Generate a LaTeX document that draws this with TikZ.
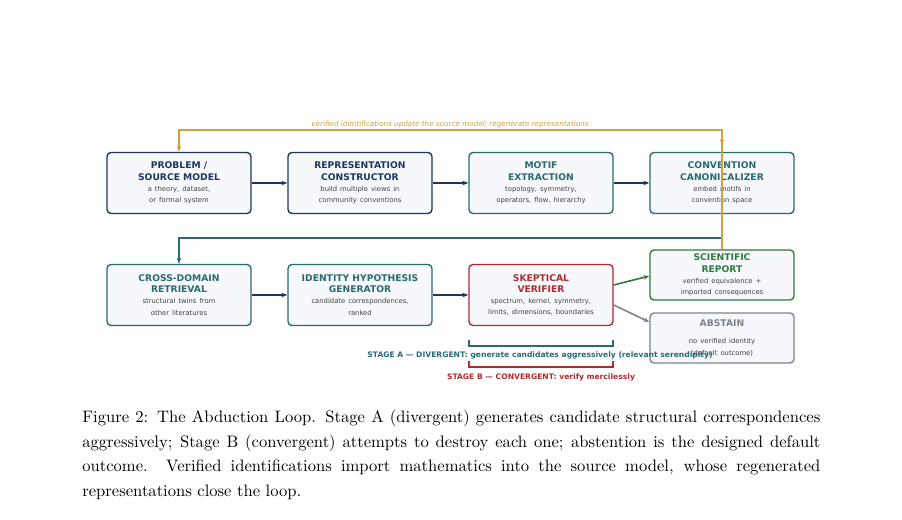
\documentclass[tikz,border=0pt]{standalone}
\usepackage{fontspec}
\newfontfamily\boxfont{DejaVu Sans}
\usetikzlibrary{arrows.meta}
\definecolor{navy}{HTML}{1F3560}
\definecolor{tealc}{HTML}{2A6B70}
\definecolor{redc}{HTML}{B02A30}
\definecolor{greenc}{HTML}{2E7B3C}
\definecolor{grayc}{HTML}{7C8290}
\definecolor{goldc}{HTML}{D2A03C}
\definecolor{boxfill}{HTML}{F6F8FC}
\newcommand\bsubf{\fontsize{3.4}{4.6}\mdseries\selectfont\color{black!75}}
\tikzset{
  stage/.style={draw=#1,text=#1,fill=boxfill,line width=0.7pt,rounded corners=2pt,
    minimum width=72pt,text width=70pt,minimum height=30.5pt,align=center,inner sep=1pt,
    font=\boxfont\bfseries\fontsize{4.6}{5.6}\selectfont},
  flow/.style={-{Stealth[length=3pt]},line width=1pt,navy},
}
\begin{document}
\begin{tikzpicture}[x=0.5pt,y=-0.5pt]
  \useasboundingbox (0,0) rectangle (902,520);
  % top row
  \node[stage=navy] (source) at (179,183) {PROBLEM /\\SOURCE MODEL\\[1pt]\bsubf a theory, dataset,\\\bsubf or formal system};
  \node[stage=navy] (repr) at (360,183) {REPRESENTATION\\CONSTRUCTOR\\[1pt]\bsubf build multiple views in\\\bsubf community conventions};
  \node[stage=tealc] (motif) at (541,183) {MOTIF\\EXTRACTION\\[1pt]\bsubf topology, symmetry,\\\bsubf operators, flow, hierarchy};
  \node[stage=tealc] (canon) at (722,183) {CONVENTION\\CANONICALIZER\\[1pt]\bsubf embed motifs in\\\bsubf convention space};
  % bottom row
  \node[stage=tealc] (retr) at (179,295) {CROSS-DOMAIN\\RETRIEVAL\\[1pt]\bsubf structural twins from\\\bsubf other literatures};
  \node[stage=tealc] (hyp) at (360,295) {IDENTITY HYPOTHESIS\\GENERATOR\\[1pt]\bsubf candidate correspondences,\\\bsubf ranked};
  \node[stage=redc] (verif) at (541,295) {SKEPTICAL\\VERIFIER\\[1pt]\bsubf spectrum, kernel, symmetry,\\\bsubf limits, dimensions, boundaries};
  \node[stage=greenc,minimum height=25pt] (report) at (722,275) {SCIENTIFIC\\REPORT\\[1pt]\bsubf verified equivalence +\\\bsubf imported consequences};
  \node[stage=grayc,minimum height=25pt] (abstain) at (722,338) {ABSTAIN\\[4pt]\bsubf no verified identity\\\bsubf (default outcome)};
  % flows
  \draw[flow] (source) -- (repr);
  \draw[flow] (repr) -- (motif);
  \draw[flow] (motif) -- (canon);
  \draw[flow] (retr) -- (hyp);
  \draw[flow] (hyp) -- (verif);
  \coordinate (vg) at ([yshift=5pt]verif.east);
  \coordinate (vr) at ([yshift=-5pt]verif.east);
  \draw[-{Stealth[length=3pt]},line width=0.8pt,greenc] (vg) -- (report.west |- 0,276);
  \draw[-{Stealth[length=3pt]},line width=0.8pt,grayc] (vr) -- (abstain.west |- 0,322);
  % wrap-around from canonicalizer to retrieval
  \draw[-{Stealth[length=3pt]},line width=0.8pt,tealc] (canon.south) -- (722,238) -- (179,238) -- (retr.north);
  % feedback loop
  \draw[-{Stealth[length=3pt]},line width=0.8pt,goldc] (report.north) -- (722,130) -- (179,130) -- (source.north);
  \draw[-{Stealth[length=3pt]},line width=0.8pt,goldc] (722,160) -- (722,136);
  \node[goldc,font=\boxfont\itshape\fontsize{3.6}{4}\selectfont] (looplbl) at (450,125) {verified identifications update the source model; regenerate representations};
  % stage brackets
  \draw[line width=0.7pt,tealc] (469,340) -- (469,346) -- (613,346) -- (613,340);
  \node[tealc,font=\boxfont\bfseries\fontsize{3.8}{4}\selectfont] (stagea) at (540,355) {STAGE A — DIVERGENT: generate candidates aggressively (relevant serendipity)};
  \draw[line width=0.7pt,redc] (469,361) -- (469,367) -- (613,367) -- (613,361);
  \node[redc,font=\boxfont\bfseries\fontsize{3.8}{4}\selectfont] (stageb) at (541,377) {STAGE B — CONVERGENT: verify mercilessly};
  % caption
  \node[anchor=north west,inner sep=0pt,scale=0.83,transform shape,text width=444.6pt,align=justify,font=\fontsize{10}{14.76}\selectfont] (caption) at (82,410)
    {Figure 2: The Abduction Loop. Stage A (divergent) generates candidate structural correspondences\linebreak aggressively; Stage B (convergent) attempts to destroy each one; abstention is the designed default\linebreak outcome. Verified identifications import mathematics into the source model, whose regenerated\linebreak representations close the loop.};
\end{tikzpicture}
\end{document}
